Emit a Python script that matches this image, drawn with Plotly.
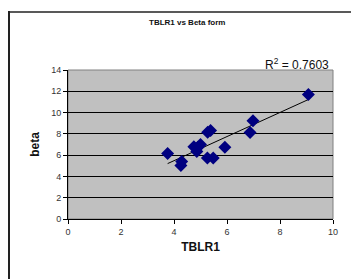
import numpy as np
import plotly.graph_objects as go

tblr1 = [3.76, 4.29, 4.26, 4.75, 4.86, 5.00, 4.90, 5.27, 5.38, 5.26, 5.48, 5.92, 6.87, 6.98, 9.07]
beta = [6.15, 5.40, 5.03, 6.80, 6.35, 7.00, 6.75, 8.16, 8.31, 5.72, 5.72, 6.75, 8.12, 9.22, 11.69]
x_ticks = [0, 2, 4, 6, 8, 10]
y_ticks = [0, 2, 4, 6, 8, 10, 12, 14]
title_text = "TBLR1 vs Beta form"
r2_text = "R<sup>2</sup> = 0.7603"

W, H = 351, 279
L, R, T, B = 68, 18, 70, 60
pw, ph = W - L - R, H - T - B

slope, intercept = np.polyfit(tblr1, beta, 1)
xl = [min(tblr1), max(tblr1)]
yl = [slope * v + intercept for v in xl]

fig = go.Figure()
fig.add_trace(go.Scatter(x=xl, y=yl, mode="lines",
                         line=dict(color="black", width=1), hoverinfo="skip"))
fig.add_trace(go.Scatter(x=tblr1, y=beta, mode="markers",
                         marker=dict(symbol="diamond", size=10, color="#000080",
                                     line=dict(width=0))))

def px(xpix):
    return (xpix - L) / pw

def py(ypix):
    return (H - B - ypix) / ph

shapes = [
    dict(type="line", xref="paper", yref="paper", x0=px(9), x1=px(9), y0=py(11), y1=py(279),
         line=dict(color="#222", width=2)),
    dict(type="line", xref="paper", yref="paper", x0=px(8), x1=px(351), y0=py(12), y1=py(12),
         line=dict(color="#222", width=1.5)),
    dict(type="rect", xref="paper", yref="paper", x0=0, x1=1, y0=0, y1=1,
         line=dict(color="#808080", width=1), layer="below"),
]

fig.update_layout(
    width=W, height=H,
    margin=dict(l=L, r=R, t=T, b=B),
    paper_bgcolor="white", plot_bgcolor="#C0C0C0",
    showlegend=False,
    font=dict(family="Liberation Sans, Arial, sans-serif", color="#222"),
    shapes=shapes,
    xaxis=dict(range=[0, 10], tickvals=x_ticks, showgrid=False, zeroline=False,
               showline=True, linecolor="black", linewidth=1, ticks="outside",
               ticklen=4, tickcolor="black", tickfont=dict(size=9, color="#333"),
               title=dict(text="<b>TBLR1</b>", font=dict(size=12, color="#111"), standoff=6)),
    yaxis=dict(range=[0, 14], tickvals=y_ticks, showgrid=True, gridcolor="black", gridwidth=1,
               zeroline=False, showline=True, linecolor="black", linewidth=1,
               ticks="outside", ticklen=4, tickcolor="black",
               tickfont=dict(size=9, color="#333"),
               title=dict(text="<b>beta</b>", font=dict(size=12, color="#111"), standoff=8)),
    annotations=[
        dict(text="<b>" + title_text + "</b>", xref="paper", yref="paper",
             x=px(187), y=py(22), showarrow=False, font=dict(size=8, color="#111"),
             xanchor="center", yanchor="middle"),
        dict(text=r2_text, xref="paper", yref="paper", x=px(331), y=py(64),
             showarrow=False, font=dict(size=12, color="#111"),
             xanchor="right", yanchor="middle"),
    ],
)

fig.write_html("out.html", config={"displayModeBar": False},
               post_script="document.body.style.margin='0';document.body.style.overflow='hidden';")
